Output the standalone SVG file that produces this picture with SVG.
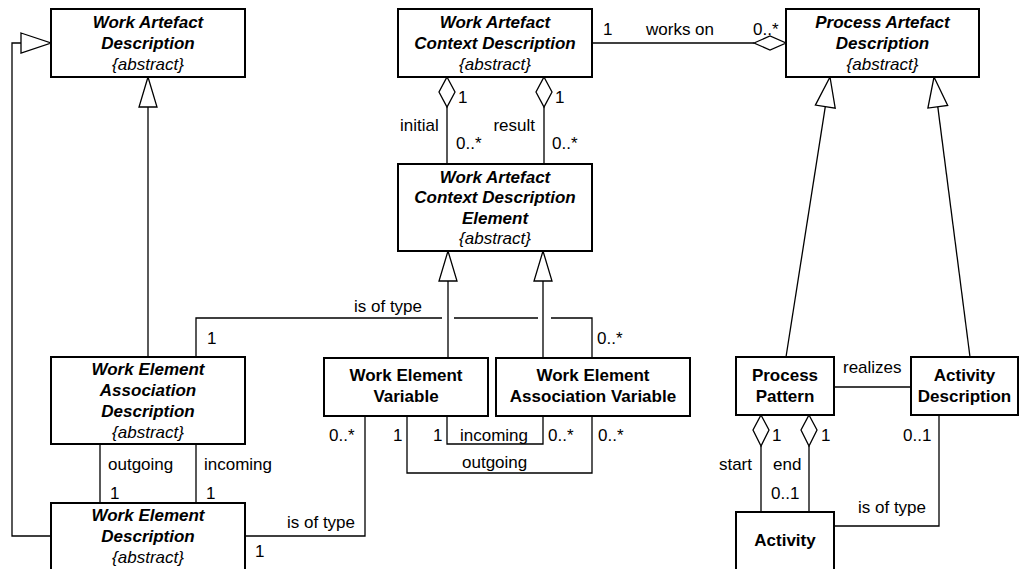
<svg xmlns="http://www.w3.org/2000/svg" width="1021" height="569" viewBox="0 0 1021 569">
<style>
.box{fill:#fff;stroke:#000;stroke-width:2}
.ln{fill:none;stroke:#000;stroke-width:1.3}
.hd{fill:#fff;stroke:#000;stroke-width:1.3}
text{font-family:"Liberation Sans",Arial,sans-serif;font-size:17px;fill:#000}
.n{font-weight:bold;font-style:italic;text-anchor:middle}
.c{font-weight:bold;text-anchor:middle}
.a{font-style:italic;text-anchor:middle}
.e{text-anchor:end}
</style>
<rect width="1021" height="569" fill="#fff"/>
<g id="connectors">
  <!-- WED -> WAD generalization -->
  <path class="ln" d="M51,536 H12 V43 H21"/>
  <polygon class="hd" points="21,33 51,43 21,53"/>
  <!-- WEAD -> WAD -->
  <path class="ln" d="M148,107 V357"/>
  <polygon class="hd" points="148,77 139,107 157,107"/>
  <!-- works on -->
  <path class="ln" d="M592,43 H754"/>
  <polygon class="hd" points="754,43 770,36 786,43 770,50"/>
  <!-- initial / result -->
  <path class="ln" d="M447,107 V164 M544,107 V164"/>
  <polygon class="hd" points="447,77 455,92 447,107 439,92"/>
  <polygon class="hd" points="544,77 552,92 544,107 536,92"/>
  <!-- WEV/WEAV -> WACDE -->
  <path class="ln" d="M448,281 V358 M543,281 V358"/>
  <polygon class="hd" points="448,251 439,281 457,281"/>
  <polygon class="hd" points="543,251 534,281 552,281"/>
  <!-- is of type (top) -->
  <path class="ln" d="M196,357 V318 H442 M454,318 H538 M551,318 H592 V358"/>
  <!-- WEV - WEAV incoming/outgoing -->
  <path class="ln" d="M447,416 V444 H543 V416"/>
  <path class="ln" d="M407,416 V473 H592 V416"/>
  <!-- WEAD - WED -->
  <path class="ln" d="M100,444 V503 M196,444 V503"/>
  <!-- WED - WEV is of type -->
  <path class="ln" d="M245,536 H365 V416"/>
  <!-- PP/AD -> PAD -->
  <path class="ln" d="M825.3,106.6 L786,357"/>
  <polygon class="hd" points="830,77 835.2,108.2 815.4,105.1"/>
  <path class="ln" d="M937.8,106.8 L970,357"/>
  <polygon class="hd" points="934,77 947.7,105.5 927.9,108.1"/>
  <!-- realizes -->
  <path class="ln" d="M834,387 H911"/>
  <!-- start / end -->
  <path class="ln" d="M761,446 V512 M809,446 V512"/>
  <polygon class="hd" points="761,415 769,430 761,446 753,430"/>
  <polygon class="hd" points="809,415 817,430 809,446 801,430"/>
  <!-- AD - Activity is of type -->
  <path class="ln" d="M939,415 V526 H834"/>
</g>
<g id="labels">
  <text x="603" y="35">1</text>
  <text x="646" y="35">works on</text>
  <text x="753" y="35">0..*</text>
  <text x="458" y="103">1</text>
  <text x="555" y="103">1</text>
  <text x="400" y="131">initial</text>
  <text x="535" y="131" class="e">result</text>
  <text x="456" y="149">0..*</text>
  <text x="552" y="149">0..*</text>
  <text x="354" y="312">is of type</text>
  <text x="207" y="344">1</text>
  <text x="597" y="344">0..*</text>
  <text x="329" y="441">0..*</text>
  <text x="393" y="441">1</text>
  <text x="433" y="441">1</text>
  <text x="460" y="441">incoming</text>
  <text x="548" y="441">0..*</text>
  <text x="598" y="441">0..*</text>
  <text x="462" y="468">outgoing</text>
  <text x="108" y="470">outgoing</text>
  <text x="204" y="470">incoming</text>
  <text x="110" y="499">1</text>
  <text x="206" y="499">1</text>
  <text x="287" y="528">is of type</text>
  <text x="255" y="557">1</text>
  <text x="843" y="373">realizes</text>
  <text x="772" y="441">1</text>
  <text x="821" y="441">1</text>
  <text x="903" y="441">0..1</text>
  <text x="752" y="470" class="e">start</text>
  <text x="773" y="470">end</text>
  <text x="771" y="499">0..1</text>
  <text x="858" y="513">is of type</text>
</g>
<g id="wad">
  <rect class="box" x="51" y="9" width="194" height="68"/>
  <text class="n" x="148" y="28">Work Artefact</text>
  <text class="n" x="148" y="49">Description</text>
  <text class="a" x="148" y="70">{abstract}</text>
</g>
<g id="wacd">
  <rect class="box" x="398" y="9" width="194" height="68"/>
  <text class="n" x="495" y="28">Work Artefact</text>
  <text class="n" x="495" y="49">Context Description</text>
  <text class="a" x="495" y="70">{abstract}</text>
</g>
<g id="pad">
  <rect class="box" x="786" y="9" width="193" height="68"/>
  <text class="n" x="882.5" y="28">Process Artefact</text>
  <text class="n" x="882.5" y="49">Description</text>
  <text class="a" x="882.5" y="70">{abstract}</text>
</g>
<g id="wacde">
  <rect class="box" x="398" y="164" width="194" height="87"/>
  <text class="n" x="495" y="183">Work Artefact</text>
  <text class="n" x="495" y="203">Context Description</text>
  <text class="n" x="495" y="224">Element</text>
  <text class="a" x="495" y="244">{abstract}</text>
</g>
<g id="wead">
  <rect class="box" x="51" y="357" width="194" height="87"/>
  <text class="n" x="148" y="375">Work Element</text>
  <text class="n" x="148" y="396">Association</text>
  <text class="n" x="148" y="417">Description</text>
  <text class="a" x="148" y="438">{abstract}</text>
</g>
<g id="wed">
  <rect class="box" x="51" y="503" width="194" height="80"/>
  <text class="n" x="148" y="521">Work Element</text>
  <text class="n" x="148" y="542">Description</text>
  <text class="a" x="148" y="563">{abstract}</text>
</g>
<g id="wev">
  <rect class="box" x="324" y="358" width="164" height="58"/>
  <text class="c" x="406" y="381">Work Element</text>
  <text class="c" x="406" y="402">Variable</text>
</g>
<g id="weav">
  <rect class="box" x="496" y="358" width="194" height="58"/>
  <text class="c" x="593" y="381">Work Element</text>
  <text class="c" x="593" y="402">Association Variable</text>
</g>
<g id="pp">
  <rect class="box" x="736" y="357" width="98" height="58"/>
  <text class="c" x="785" y="381">Process</text>
  <text class="c" x="785" y="402">Pattern</text>
</g>
<g id="ad">
  <rect class="box" x="911" y="357" width="107" height="58"/>
  <text class="c" x="964.5" y="381">Activity</text>
  <text class="c" x="964.5" y="402">Description</text>
</g>
<g id="activity">
  <rect class="box" x="736" y="512" width="98" height="70"/>
  <text class="c" x="785" y="546">Activity</text>
</g>
</svg>
